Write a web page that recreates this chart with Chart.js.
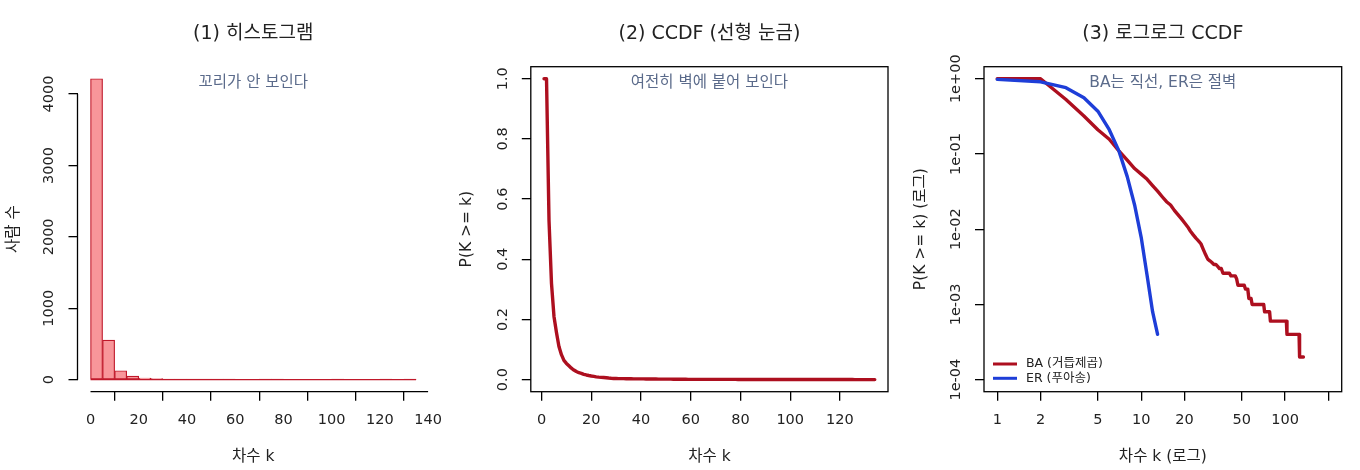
<!DOCTYPE html>
<html>
<head>
<meta charset="utf-8">
<script src="https://cdn.jsdelivr.net/npm/chart.js@4.4.1/dist/chart.umd.min.js"></script>
<style>
  body { margin: 0; background: #fff; width: 1360px; height: 470px; overflow: hidden; position: relative; }
  .panel { position: absolute; top: 0; width: 453px; height: 470px; }
</style>
</head>
<body>
<div class="panel" style="left:0px"><canvas id="hist"></canvas></div>
<div class="panel" style="left:453px"><canvas id="ccdfLin"></canvas></div>
<div class="panel" style="left:907px"><canvas id="ccdfLog"></canvas></div>

<script>
// ---- data ----
// histogram of BA degrees, bins of width 5 (R hist breaks)
const histBreaks = [0, 5, 10, 15, 20, 25, 30, 35, 40, 45, 50, 55, 60, 65, 70,
  75, 80, 85, 90, 95, 100, 105, 110, 115, 120, 125, 130, 135];
const histCounts = [4215, 555, 125, 51, 22, 14, 3, 2, 2, 2, 3, 1, 0, 0,
  1, 1, 0, 0, 0, 0, 1, 0, 0, 0, 1, 0, 1];

// P(K >= k) of the BA network, k = 1 .. 134
const baCcdf = [
  1.0, 1.0, 0.53, 0.32, 0.21, 0.157, 0.11, 0.083, 0.064, 0.054,
  0.046, 0.038, 0.032, 0.027, 0.0232, 0.021, 0.0178, 0.0156, 0.0138, 0.0122,
  0.0108, 0.0094, 0.0084, 0.0076, 0.0070, 0.0064, 0.0054, 0.0046, 0.0040, 0.0038,
  0.0036, 0.0034, 0.0034, 0.0032, 0.0030, 0.0030,
  0.0026, 0.0026, 0.0026, 0.0026, 0.0026,
  0.0024, 0.0024, 0.0024, 0.0024,
  0.0022,
  0.0018, 0.0018, 0.0018, 0.0018, 0.0018, 0.0018,
  0.0016, 0.0016, 0.0016,
  0.0012, 0.0012, 0.0012,
  0.0010, 0.0010, 0.0010, 0.0010, 0.0010, 0.0010, 0.0010, 0.0010, 0.0010, 0.0010, 0.0010, 0.0010, 0.0010,
  0.0008, 0.0008, 0.0008, 0.0008, 0.0008, 0.0008, 0.0008,
  0.0006, 0.0006, 0.0006, 0.0006, 0.0006, 0.0006, 0.0006, 0.0006, 0.0006, 0.0006, 0.0006, 0.0006,
  0.0006, 0.0006, 0.0006, 0.0006, 0.0006, 0.0006, 0.0006, 0.0006, 0.0006, 0.0006, 0.0006, 0.0006,
  0.0004, 0.0004, 0.0004, 0.0004, 0.0004, 0.0004, 0.0004, 0.0004, 0.0004, 0.0004, 0.0004, 0.0004,
  0.0004, 0.0004, 0.0004, 0.0004, 0.0004, 0.0004, 0.0004, 0.0004, 0.0004, 0.0004, 0.0004,
  0.0002, 0.0002, 0.0002, 0.0002, 0.0002, 0.0002, 0.0002, 0.0002, 0.0002
];
// P(K >= k) of the ER network, k = 1 .. 13
const erCcdf = [0.982, 0.91, 0.76, 0.56, 0.37, 0.21, 0.11, 0.05, 0.021, 0.0078, 0.0024, 0.0008, 0.0004];

// tick labels
const histXTicks = [0, 20, 40, 60, 80, 100, 120, 140];
const histYTicks = [0, 1000, 2000, 3000, 4000];
const linXTicks = [0, 20, 40, 60, 80, 100, 120];
const linYTicks = [0, 0.2, 0.4, 0.6, 0.8, 1.0];
const logXTicks = [1, 2, 5, 10, 20, 50, 100, 200];
const logXLabels = ['1', '2', '5', '10', '20', '50', '100', ''];
const logYTicks = [1e-4, 1e-3, 1e-2, 1e-1, 1];
const logYLabels = ['1e-04', '1e-03', '1e-02', '1e-01', '1e+00'];

const RED = '#ad0f1f';
const BLUE = '#1e3ed8';
const NOTE = '#5b6b8b';
const INK = '#222';
const FONT = "'DejaVu Sans', 'Noto Sans CJK KR', sans-serif";

// R-like frame: box or axis segments, rotated y labels, note text, legend
const rFrame = {
  id: 'rFrame',
  afterDraw(chart, args, opts) {
    const { ctx, chartArea: a } = chart;
    const xs = chart.scales.x, ys = chart.scales.y;
    ctx.save();
    ctx.strokeStyle = '#000';
    ctx.lineWidth = 1.3;
    if (opts.box) {
      ctx.strokeRect(a.left, a.top, a.right - a.left, a.bottom - a.top);
    } else {
      ctx.beginPath();
      ctx.moveTo(xs.getPixelForValue(xs.ticks[0].value), a.bottom);
      ctx.lineTo(xs.getPixelForValue(xs.ticks[xs.ticks.length - 1].value), a.bottom);
      ctx.moveTo(a.left, ys.getPixelForValue(ys.ticks[0].value));
      ctx.lineTo(a.left, ys.getPixelForValue(ys.ticks[ys.ticks.length - 1].value));
      ctx.stroke();
    }

    // y tick labels, turned like R's las=0
    const fmt = ys.options.ticks.callback;
    ctx.fillStyle = INK;
    ctx.font = '14.5px ' + FONT;
    ctx.textAlign = 'center';
    ctx.textBaseline = 'middle';
    ys.ticks.forEach((t, i) => {
      ctx.save();
      ctx.translate(a.left - 28, ys.getPixelForValue(t.value));
      ctx.rotate(-Math.PI / 2);
      ctx.fillText(fmt(t.value, i), 0, 0);
      ctx.restore();
    });

    ctx.fillStyle = NOTE;
    ctx.font = '15.5px ' + FONT;
    ctx.fillText(opts.note, (a.left + a.right) / 2, a.top + 16.5);

    if (opts.legend) {
      ctx.font = '12.5px ' + FONT;
      ctx.textAlign = 'left';
      chart.data.datasets.forEach((ds, i) => {
        const y = a.bottom - 27.7 + i * 14.3;
        ctx.strokeStyle = ds.borderColor;
        ctx.lineWidth = 3;
        ctx.beginPath();
        ctx.moveTo(a.left + 9, y);
        ctx.lineTo(a.left + 33, y);
        ctx.stroke();
        ctx.fillStyle = INK;
        ctx.fillText(ds.label, a.left + 42, y);
      });
    }
    ctx.restore();
  }
};

function axis(type, min, max, tickVals, fmt, title, isY, yWidth) {
  return {
    type: type,
    min: min,
    max: max,
    offset: false,
    afterBuildTicks: s => { s.ticks = tickVals.map(v => ({ value: v })); },
    afterFit: s => { if (isY) s.width = yWidth; else s.height = 78.3; },
    grid: { display: true, drawOnChartArea: false, drawTicks: true, tickLength: 9, color: '#000', lineWidth: 1.3 },
    border: { display: false },
    ticks: { display: !isY, callback: fmt, color: INK, font: { family: FONT, size: 14.5 },
             padding: 11, maxRotation: 0, autoSkip: false },
    title: { display: true, text: title, color: INK, font: { family: FONT, size: 15.5 },
             padding: isY ? { top: 4.2 } : { bottom: 4.2 } }
  };
}

function baseOptions(title, padRight) {
  return {
    responsive: true,
    maintainAspectRatio: false,
    animation: false,
    events: [],
    layout: { padding: { left: 0, right: padRight, top: 0, bottom: 0 } },
    plugins: {
      legend: { display: false },
      tooltip: { enabled: false },
      title: { display: true, text: title, fullSize: false, color: INK,
               font: { family: FONT, size: 19, weight: 'normal' },
               padding: { top: 23.1, bottom: 20.8 } }
    }
  };
}

// (1) histogram
const histOpts = baseOptions('(1) 히스토그램', 17.5);
histOpts.scales = {
  x: axis('linear', -5.4, 140.4, histXTicks, v => String(v), '차수 k', false),
  y: axis('linear', -168.6, 4383.6, histYTicks, v => String(v), '사람 수', true, 77.5)
};
histOpts.plugins.rFrame = { box: false, note: '꼬리가 안 보인다' };
new Chart(document.getElementById('hist'), {
  data: {
    datasets: [{
      type: 'bar',
      data: histCounts.map((c, i) => ({ x: (histBreaks[i] + histBreaks[i + 1]) / 2, y: c })),
      backgroundColor: '#f8969a',
      borderColor: '#c0182a',
      borderWidth: 1.2,
      borderSkipped: false,
      barPercentage: 1,
      categoryPercentage: 1,
      order: 1
    }, {
      // bottom edges of the bins, drawn by R even where the count is 0
      type: 'line',
      data: [{ x: histBreaks[0], y: 0 }, { x: histBreaks[histBreaks.length - 1], y: 0 }],
      borderColor: '#c0182a',
      borderWidth: 1.4,
      pointRadius: 0,
      order: 0
    }]
  },
  options: histOpts,
  plugins: [rFrame]
});

// (2) CCDF, linear axes
const linOpts = baseOptions('(2) CCDF (선형 눈금)', 18);
linOpts.scales = {
  x: axis('linear', -4.32, 139.32, linXTicks, v => String(v), '차수 k', false),
  y: axis('linear', -0.04, 1.04, linYTicks, v => v.toFixed(1), 'P(K >= k)', true, 77.8)
};
linOpts.plugins.rFrame = { box: true, note: '여전히 벽에 붙어 보인다' };
new Chart(document.getElementById('ccdfLin'), {
  type: 'line',
  data: {
    datasets: [{
      data: baCcdf.map((p, i) => ({ x: i + 1, y: p })),
      borderColor: RED,
      borderWidth: 3.4,
      pointRadius: 0,
      tension: 0,
      borderCapStyle: 'round',
      borderJoinStyle: 'round'
    }]
  },
  options: linOpts,
  plugins: [rFrame]
});

// (3) CCDF, log-log axes
const logOpts = baseOptions('(3) 로그로그 CCDF', 18.3);
logOpts.scales = {
  x: axis('logarithmic', Math.pow(10, -0.0921), Math.pow(10, 2.3931), logXTicks,
          (v, i) => logXLabels[logXTicks.indexOf(v)], '차수 k (로그)', false),
  y: axis('logarithmic', Math.pow(10, -4.16), Math.pow(10, 0.16), logYTicks,
          (v, i) => logYLabels[logYTicks.indexOf(v)], 'P(K >= k) (로그)', true, 77)
};
logOpts.plugins.rFrame = { box: true, note: 'BA는 직선, ER은 절벽', legend: true };
new Chart(document.getElementById('ccdfLog'), {
  type: 'line',
  data: {
    datasets: [{
      label: 'BA (거듭제곱)',
      data: baCcdf.map((p, i) => ({ x: i + 1, y: p })),
      borderColor: RED,
      borderWidth: 3.4,
      pointRadius: 0,
      tension: 0,
      order: 1,
      borderCapStyle: 'round',
      borderJoinStyle: 'round'
    }, {
      label: 'ER (푸아송)',
      data: erCcdf.map((p, i) => ({ x: i + 1, y: p })),
      borderColor: BLUE,
      borderWidth: 3.4,
      pointRadius: 0,
      tension: 0,
      order: 0,
      borderCapStyle: 'round',
      borderJoinStyle: 'round'
    }]
  },
  options: logOpts,
  plugins: [rFrame]
});
</script>
</body>
</html>
